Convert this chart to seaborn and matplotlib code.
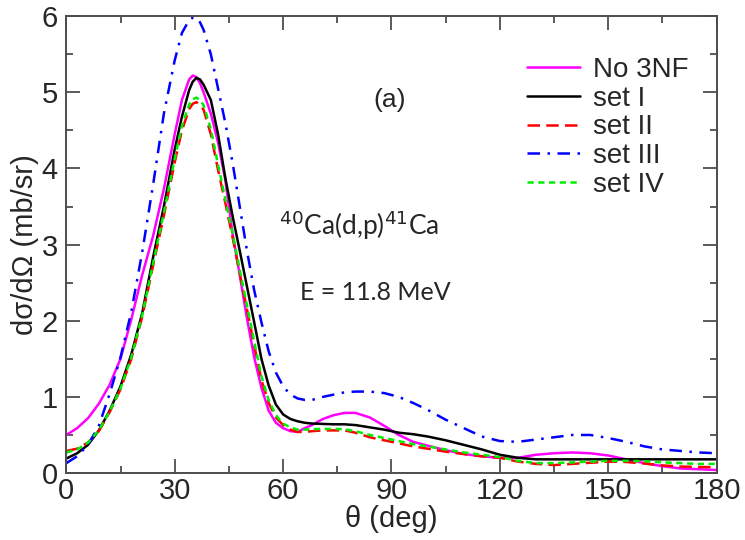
import numpy as np
import pandas as pd
import matplotlib
matplotlib.use("Agg")
import matplotlib.pyplot as plt
import seaborn as sns
from matplotlib.ticker import MultipleLocator

# ---------------- DATA ----------------
theta = [0, 3, 6, 9, 12, 15, 18, 21, 24, 27, 30, 32, 34, 35, 36, 37, 38, 40, 42, 44,
         46, 48, 50, 52, 54, 56, 58, 60, 62, 64, 66, 68, 71, 74, 77, 80, 84, 88, 92, 96,
         100, 105, 110, 115, 120, 125, 130, 135, 140, 145, 150, 155, 160, 165, 170, 175, 180]

no_3nf = [0.50, 0.59, 0.72, 0.91, 1.16, 1.50, 2.02, 2.60, 3.11, 3.73, 4.45, 4.90, 5.17, 5.22, 5.20, 5.12, 5.00, 4.72, 4.34, 3.85,
          3.15, 2.60, 2.03, 1.52, 1.12, 0.82, 0.66, 0.59, 0.55, 0.54, 0.59, 0.63, 0.71, 0.76, 0.79, 0.79, 0.73, 0.62, 0.50, 0.41,
          0.36, 0.30, 0.25, 0.22, 0.20, 0.20, 0.24, 0.26, 0.27, 0.26, 0.23, 0.18, 0.13, 0.09, 0.06, 0.05, 0.04]

set_1 = [0.19, 0.26, 0.37, 0.56, 0.82, 1.14, 1.56, 2.10, 2.83, 3.50, 4.25, 4.68, 5.03, 5.14, 5.19, 5.17, 5.10, 4.90, 4.45, 3.88,
         3.38, 2.92, 2.45, 1.98, 1.50, 1.15, 0.90, 0.77, 0.71, 0.68, 0.66, 0.65, 0.645, 0.64, 0.64, 0.63, 0.60, 0.57, 0.53, 0.51,
         0.48, 0.43, 0.37, 0.31, 0.24, 0.20, 0.18, 0.18, 0.18, 0.18, 0.18, 0.18, 0.18, 0.18, 0.18, 0.18, 0.18]

set_2 = [0.29, 0.32, 0.40, 0.55, 0.80, 1.10, 1.50, 2.05, 2.72, 3.38, 4.08, 4.50, 4.78, 4.85, 4.87, 4.84, 4.77, 4.45, 3.98, 3.55,
         3.10, 2.62, 2.15, 1.68, 1.22, 0.92, 0.73, 0.63, 0.57, 0.54, 0.54, 0.55, 0.56, 0.56, 0.56, 0.53, 0.47, 0.43, 0.39, 0.35,
         0.32, 0.28, 0.25, 0.22, 0.20, 0.15, 0.12, 0.105, 0.12, 0.135, 0.15, 0.145, 0.125, 0.10, 0.085, 0.08, 0.075]

set_3 = [0.13, 0.22, 0.37, 0.62, 1.04, 1.52, 2.12, 2.90, 3.78, 4.72, 5.42, 5.78, 5.95, 5.98, 5.98, 5.92, 5.82, 5.50, 5.05, 4.60,
         4.08, 3.50, 2.92, 2.40, 1.98, 1.60, 1.32, 1.14, 1.03, 0.98, 0.96, 0.96, 1.00, 1.03, 1.06, 1.07, 1.07, 1.05, 1.00, 0.92,
         0.83, 0.70, 0.59, 0.48, 0.42, 0.41, 0.44, 0.47, 0.50, 0.50, 0.46, 0.41, 0.35, 0.31, 0.29, 0.27, 0.26]

set_4 = [0.27, 0.31, 0.40, 0.56, 0.81, 1.11, 1.52, 2.07, 2.75, 3.42, 4.13, 4.56, 4.84, 4.91, 4.93, 4.90, 4.83, 4.52, 4.05, 3.60,
         3.15, 2.67, 2.20, 1.73, 1.27, 0.96, 0.76, 0.65, 0.60, 0.57, 0.57, 0.575, 0.58, 0.58, 0.575, 0.55, 0.50, 0.46, 0.42, 0.38,
         0.35, 0.31, 0.27, 0.24, 0.21, 0.16, 0.13, 0.13, 0.14, 0.15, 0.16, 0.16, 0.155, 0.14, 0.13, 0.12, 0.12]

labels = ["No 3NF", "set I", "set II", "set III", "set IV"]
series = [no_3nf, set_1, set_2, set_3, set_4]
colors = ["#ff00ff", "black", "#ff0000", "#0000ff", "#00ee00"]
dashes = [(None, None), (None, None), (5, 2.5), (5, 3, 1, 3), (2.5, 1.8)]

x_ticks = [0, 30, 60, 90, 120, 150, 180]
y_ticks = [0, 1, 2, 3, 4, 5, 6]

# ---------------- PLOT ----------------
sns.set_style("ticks")
plt.rcParams["font.family"] = ["Liberation Sans", "DejaVu Sans"]

fig = plt.figure(figsize=(7.45, 5.4), dpi=100)
ax = fig.add_axes([0.089, 0.124, 0.873, 0.846])

for lab, vals, col, dsh in zip(labels, series, colors, dashes):
    df = pd.DataFrame({"theta": theta, "xs": vals})
    sns.lineplot(data=df, x="theta", y="xs", ax=ax, color=col, lw=1.8, label=lab)
    if dsh[0] is not None:
        ax.lines[-1].set_dashes(dsh)

ax.set_xlim(0, 180)
ax.set_ylim(0, 6)
ax.set_xticks(x_ticks)
ax.set_yticks(y_ticks)
ax.xaxis.set_minor_locator(MultipleLocator(15))
ax.yaxis.set_minor_locator(MultipleLocator(0.5))
ax.tick_params(which="both", direction="in", top=True, right=True, labelsize=21, color="0.25", width=1.2)
ax.tick_params(which="major", length=10)
ax.tick_params(axis="x", which="major", pad=3)
ax.tick_params(axis="y", which="major", pad=6)
ax.tick_params(which="minor", length=5)
for s in ax.spines.values():
    s.set_linewidth(1.4)
    s.set_color("0.3")

ax.set_xlabel("θ (deg)", fontsize=21, labelpad=0)
ax.set_ylabel("dσ/dΩ (mb/sr)", fontsize=21, labelpad=2)

ax.text(89.6, 4.9, "(a)", fontsize=19, ha="center", va="center")
ax.text(81, 3.26, "$^{40}$Ca(d,p)$^{41}$Ca", fontsize=19, family=["Lato", "DejaVu Sans"], ha="center", va="center")
ax.text(85.4, 2.37, "E = 11.8 MeV", fontsize=18, family=["Lato", "DejaVu Sans"], ha="center", va="center")

leg = ax.legend(loc="upper left", bbox_to_anchor=(0.709, 0.911), frameon=False, fontsize=20,
                handlelength=1.9, handletextpad=0.45, labelspacing=0.1, borderaxespad=0, borderpad=0)

fig.savefig("out.png", dpi=100)
